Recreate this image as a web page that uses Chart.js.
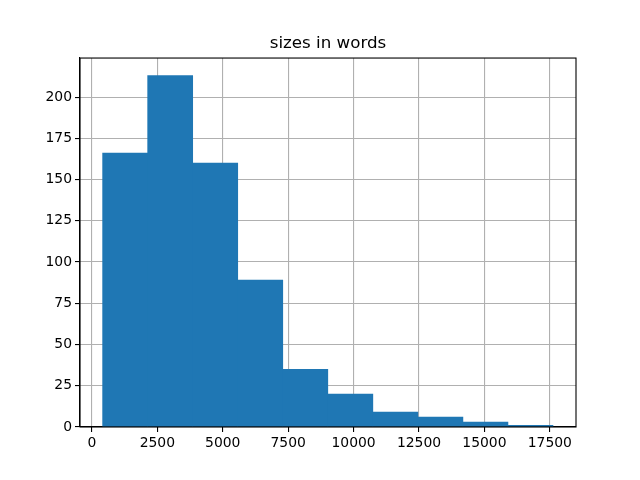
<!DOCTYPE html>
<html>
<head>
<meta charset="utf-8">
<script src="https://cdn.jsdelivr.net/npm/chart.js@4/dist/chart.umd.min.js"></script>
<style>
    html, body { margin: 0; padding: 0; background: #fff; }
    #wrap { width: 640px; height: 480px; }
</style>
</head>
<body>
<div id="wrap"><canvas id="chart-hist" width="640" height="480"></canvas></div>
<script>
// histograma: 10 bins
const binEdges = [410, 2131, 3852, 5573, 7294, 9015, 10736, 12457, 14178, 15899, 17620];
const counts = [166, 213, 160, 89, 35, 20, 9, 6, 3, 1];
const xTicks = [0, 2500, 5000, 7500, 10000, 12500, 15000, 17500];
const yTicks = [0, 25, 50, 75, 100, 125, 150, 175, 200];

const FONT = "'DejaVu Sans', sans-serif";

const puntos = counts.map((c, i) => ({ x: (binEdges[i] + binEdges[i + 1]) / 2, y: c }));

const marco = {
    id: "marco",
    afterDraw(chart) {
        const { ctx, chartArea: a } = chart;
        ctx.save();
        ctx.strokeStyle = "#000";
        ctx.lineWidth = 1.1;
        ctx.strokeRect(a.left, a.top, a.right - a.left, a.bottom - a.top);
        ctx.restore();
    },
};

const ctx = document.getElementById("chart-hist").getContext("2d");
new Chart(ctx, {
    type: "bar",
    data: {
        datasets: [{
            label: "sizes in words",
            data: puntos,
            backgroundColor: "#1f77b4",
            borderWidth: 0,
            barPercentage: 1,
            categoryPercentage: 1,
        }],
    },
    plugins: [marco],
    options: {
        responsive: false,
        animation: false,
        layout: { padding: { left: 16, right: 0, top: 0, bottom: 0 } },
        plugins: {
            legend: { display: false },
            tooltip: { enabled: false },
            title: {
                display: true,
                text: "sizes in words",
                color: "#000",
                font: { family: FONT, size: 16.7, weight: "normal" },
                padding: { top: 34, bottom: 4 },
            },
        },
        scales: {
            x: {
                type: "linear",
                min: -455,
                max: 18500,
                offset: false,
                z: 1,
                afterBuildTicks: (s) => { s.ticks = xTicks.map(v => ({ value: v })); },
                afterFit: (s) => { s.height = 53; },
                ticks: {
                    color: "#000",
                    font: { family: FONT, size: 13.9 },
                    padding: 3,
                    maxRotation: 0,
                    autoSkip: false,
                    callback: (v) => String(v),
                },
                grid: { offset: false, color: "#b0b0b0", lineWidth: 1.1, tickColor: "#000", tickLength: 5, tickWidth: 1.1 },
                border: { color: "#000", width: 1.1 },
            },
            y: {
                min: 0,
                max: 223.65,
                z: 1,
                afterBuildTicks: (s) => { s.ticks = yTicks.map(v => ({ value: v })); },
                afterFit: (s) => { s.width = 64; },
                ticks: {
                    color: "#000",
                    font: { family: FONT, size: 13.9 },
                    padding: 3,
                    autoSkip: false,
                    callback: (v) => String(v),
                },
                grid: { color: "#b0b0b0", lineWidth: 1.1, tickColor: "#000", tickLength: 5, tickWidth: 1.1 },
                border: { color: "#000", width: 1.1 },
            },
            // eje vacío a la derecha, solo reserva margen
            yDer: {
                position: "right",
                min: 0,
                max: 1,
                afterFit: (s) => { s.width = 64; },
                ticks: { display: false },
                grid: { display: false },
                border: { display: false },
            },
        },
    },
});
</script>
</body>
</html>
